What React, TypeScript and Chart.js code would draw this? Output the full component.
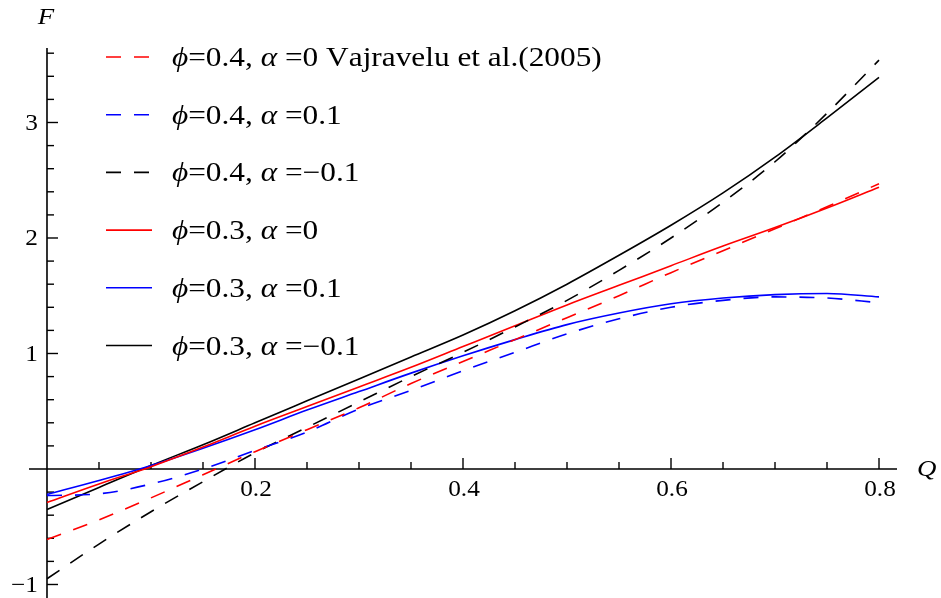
import { useEffect, useRef } from "react";
import { Chart, registerables } from "chart.js";

Chart.register(...registerables);

// Q values (x axis)
const qValues = [0, 0.05, 0.1, 0.15, 0.2, 0.25, 0.3, 0.35, 0.4, 0.45, 0.5, 0.55, 0.6, 0.65, 0.7, 0.75, 0.8];

// F values
const phi04Alpha0 = [-0.61, -0.44, -0.25, -0.05, 0.15, 0.34, 0.53, 0.74, 0.93, 1.12, 1.31, 1.5, 1.7, 1.89, 2.08, 2.27, 2.47];
const phi04Alpha01 = [-0.23, -0.215, -0.13, 0.0, 0.16, 0.32, 0.52, 0.68, 0.85, 1.01, 1.17, 1.3, 1.4, 1.46, 1.49, 1.48, 1.44];
const phi04AlphaM01 = [-0.95, -0.65, -0.37, -0.11, 0.14, 0.36, 0.58, 0.8, 1.01, 1.23, 1.46, 1.72, 2.0, 2.31, 2.66, 3.08, 3.54];
const phi03Alpha0 = [-0.29, -0.13, 0.02, 0.19, 0.37, 0.54, 0.71, 0.88, 1.06, 1.24, 1.42, 1.59, 1.76, 1.93, 2.09, 2.26, 2.44];
const phi03Alpha01 = [-0.22, -0.1, 0.03, 0.18, 0.34, 0.51, 0.67, 0.83, 0.98, 1.12, 1.25, 1.35, 1.43, 1.48, 1.51, 1.52, 1.49];
const phi03AlphaM01 = [-0.35, -0.16, 0.03, 0.21, 0.4, 0.59, 0.78, 0.97, 1.16, 1.37, 1.6, 1.85, 2.11, 2.39, 2.7, 3.04, 3.39];

const seriesLabels = [
  "ϕ=0.4, α =0 Vajravelu et al.(2005)",
  "ϕ=0.4, α =0.1",
  "ϕ=0.4, α =−0.1",
  "ϕ=0.3, α =0",
  "ϕ=0.3, α =0.1",
  "ϕ=0.3, α =−0.1",
];

const xTickValues = [0.2, 0.4, 0.6, 0.8];
const xTickLabels = ["0.2", "0.4", "0.6", "0.8"];
const yTickValues = [-1, 1, 2, 3];
const yTickLabels = ["−1", "1", "2", "3"];
const xMinorStep = 0.05;
const yMinorStep = 0.2;
const xAxisTitle = "Q";
const yAxisTitle = "F";

const SERIF = '"Liberation Serif", "DejaVu Serif", serif';

function drawText(ctx: any, text: string, x: number, y: number, font: string, align: string, sx: number) {
  ctx.save();
  ctx.font = font;
  ctx.textBaseline = "middle";
  const w = ctx.measureText(text).width * sx;
  let left = x;
  if (align === "center") left = x - w / 2;
  else if (align === "right") left = x - w;
  ctx.translate(left, y);
  ctx.scale(sx, 1);
  ctx.textAlign = "left";
  ctx.fillText(text, 0, 0);
  ctx.restore();
}

const mathPlugin = {
  id: "mathAxes",
  beforeDatasetsDraw(chart: any) {
    const { ctx, chartArea, scales } = chart;
    const xs = scales.x;
    const ys = scales.y;
    const x0 = xs.getPixelForValue(0);
    const y0 = ys.getPixelForValue(0);
    ctx.save();
    ctx.strokeStyle = "#000";
    ctx.lineWidth = 1.6;
    ctx.beginPath();
    ctx.moveTo(chartArea.left, y0);
    ctx.lineTo(chartArea.right, y0);
    ctx.moveTo(x0, chartArea.top);
    ctx.lineTo(x0, chartArea.bottom);
    ctx.stroke();

    ctx.lineWidth = 1.4;
    for (let i = 1; ; i++) {
      const v = Math.round(i * xMinorStep * 1000) / 1000;
      if (v > xs.max) break;
      const major = xTickValues.some((t) => Math.abs(t - v) < 1e-6);
      const px = xs.getPixelForValue(v);
      ctx.beginPath();
      ctx.moveTo(px, y0);
      ctx.lineTo(px, y0 - (major ? 11 : 7));
      ctx.stroke();
    }
    const iMin = Math.ceil(ys.min / yMinorStep - 1e-6);
    const iMax = Math.floor(ys.max / yMinorStep + 1e-6);
    for (let i = iMin; i <= iMax; i++) {
      if (i === 0) continue;
      const v = Math.round(i * yMinorStep * 1000) / 1000;
      const major = Math.abs(v - Math.round(v)) < 1e-6;
      const py = ys.getPixelForValue(v);
      ctx.beginPath();
      ctx.moveTo(x0, py);
      ctx.lineTo(x0 + (major ? 11 : 7), py);
      ctx.stroke();
    }

    ctx.fillStyle = "#000";
    const tickFont = `23px ${SERIF}`;
    xTickValues.forEach((v, i) => {
      drawText(ctx, xTickLabels[i], xs.getPixelForValue(v) + 1, y0 + 21, tickFont, "center", 1.1);
    });
    yTickValues.forEach((v, i) => {
      drawText(ctx, yTickLabels[i], x0 - 9, ys.getPixelForValue(v) + 1, tickFont, "right", 1.1);
    });

    const titleFont = `italic 24px ${SERIF}`;
    drawText(ctx, yAxisTitle, x0 - 1, 18, titleFont, "center", 1.12);
    drawText(ctx, xAxisTitle, chartArea.right + 20, y0 + 1, titleFont, "left", 1.12);
    ctx.restore();
  },
  afterDraw(chart: any) {
    const { ctx } = chart;
    ctx.save();
    const startY = 57;
    const stepY = 57.7;
    const sx = 1.16;
    chart.data.datasets.forEach((ds: any, i: number) => {
      const y = startY + i * stepY;
      ctx.strokeStyle = ds.borderColor;
      ctx.lineWidth = 1.6;
      ctx.setLineDash(ds.borderDash || []);
      ctx.beginPath();
      ctx.moveTo(106, y);
      ctx.lineTo(152, y);
      ctx.stroke();
      ctx.setLineDash([]);
      let x = 172;
      ctx.fillStyle = "#000";
      for (const ch of ds.label as string) {
        const italic = ch === "ϕ" || ch === "α";
        const font = `${italic ? "italic " : ""}27px ${SERIF}`;
        drawText(ctx, ch, x, y + 2, font, "left", sx);
        ctx.font = font;
        x += ctx.measureText(ch).width * sx;
      }
    });
    ctx.restore();
  },
};

export default function App() {
  const canvasRef = useRef<HTMLCanvasElement | null>(null);

  useEffect(() => {
    if (!canvasRef.current) return;
    const mk = (vals: number[]) => qValues.map((q, i) => ({ x: q, y: vals[i] }));
    const dash = [15, 13];
    const chart = new Chart(canvasRef.current, {
      type: "line",
      data: {
        datasets: [
          { label: seriesLabels[0], data: mk(phi04Alpha0), borderColor: "#ff0000", borderDash: dash },
          { label: seriesLabels[1], data: mk(phi04Alpha01), borderColor: "#0000ff", borderDash: dash },
          { label: seriesLabels[2], data: mk(phi04AlphaM01), borderColor: "#000000", borderDash: dash },
          { label: seriesLabels[3], data: mk(phi03Alpha0), borderColor: "#ff0000" },
          { label: seriesLabels[4], data: mk(phi03Alpha01), borderColor: "#0000ff" },
          { label: seriesLabels[5], data: mk(phi03AlphaM01), borderColor: "#000000" },
        ].map((d) => ({
          ...d,
          borderWidth: 1.6,
          pointRadius: 0,
          fill: false,
          cubicInterpolationMode: "monotone" as const,
        })),
      },
      options: {
        animation: false,
        responsive: true,
        maintainAspectRatio: false,
        layout: { padding: { left: 29, right: 44, top: 48, bottom: 0 } },
        plugins: { legend: { display: false }, tooltip: { enabled: false } },
        scales: {
          x: { type: "linear", min: -0.0173, max: 0.8173, display: false },
          y: { type: "linear", min: -1.117, max: 3.645, display: false },
        },
      },
      plugins: [mathPlugin],
    });
    return () => chart.destroy();
  }, []);

  return (
    <div style={{ position: "absolute", left: 0, top: 0, width: 941, height: 598, background: "#fff" }}>
      <canvas ref={canvasRef} />
    </div>
  );
}
